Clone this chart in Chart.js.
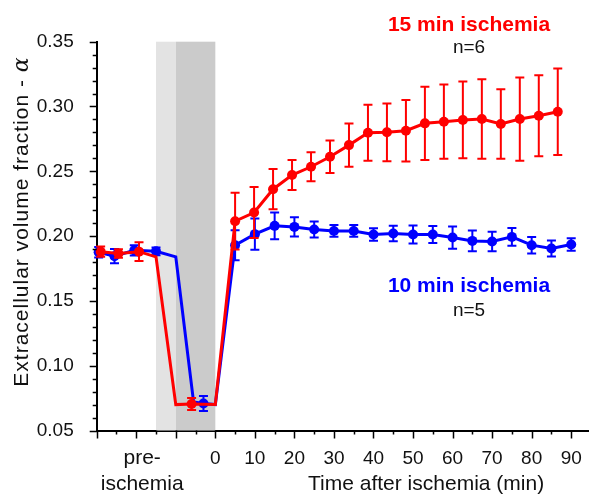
<!DOCTYPE html>
<html>
<head>
<meta charset="utf-8">
<script src="https://cdn.jsdelivr.net/npm/chart.js@4/dist/chart.umd.min.js"></script>
<style>
  body { margin: 0; background: #fff; }
  #wrap { width: 589px; height: 497px; }
</style>
</head>
<body>
<div id="wrap"><canvas id="c" width="589" height="497"></canvas></div>
<script>
// 15 min ischemia (red). null error = line vertex without a marker
const redX = [-29, -24.5, -19.3, -15, -10, -6, 0, 5, 9.8, 14.6, 19.4, 24.2, 29, 33.8, 38.6, 43.4, 48.2, 53, 57.8, 62.6, 67.4, 72.2, 77, 81.8, 86.6];
const redY = [0.188, 0.1866, 0.188, 0.184, 0.070, 0.0705, 0.070, 0.2115, 0.2182, 0.2362, 0.2471, 0.2535, 0.2612, 0.2702, 0.2798, 0.2801, 0.2813, 0.2870, 0.2883, 0.2896, 0.2903, 0.2865, 0.2903, 0.2929, 0.2960];
const redErr = [0.0039, 0.0033, 0.0072, null, null, 0.0046, null, 0.0219, 0.0197, 0.0155, 0.0116, 0.0112, 0.0125, 0.0167, 0.0216, 0.0223, 0.0238, 0.0283, 0.0286, 0.0296, 0.0307, 0.0268, 0.0321, 0.0313, 0.0334];

// 10 min ischemia (blue)
const blueX = [-29.5, -25.5, -20.5, -15, -10, -5.5, -3, 0, 5, 10, 15, 20, 25, 30, 35, 40, 45, 50, 55, 60, 65, 70, 75, 80, 85, 90];
const blueY = [0.1875, 0.1845, 0.189, 0.1883, 0.184, 0.072, 0.0708, 0.070, 0.193, 0.2015, 0.2079, 0.2071, 0.2051, 0.2040, 0.2040, 0.2012, 0.2020, 0.2012, 0.2012, 0.1989, 0.1963, 0.1958, 0.1994, 0.1930, 0.1904, 0.1935];
const blueErr = [0.004, 0.0055, 0.004, 0.003, null, null, 0.0058, null, 0.0116, 0.012, 0.0103, 0.0075, 0.0062, 0.0045, 0.0045, 0.0048, 0.006, 0.007, 0.0066, 0.0086, 0.008, 0.0075, 0.0068, 0.0064, 0.0062, 0.0048];

// ischemia periods (min)
const shadeLight = [-15, -10];
const shadeDark = [-10, 0];

const yTicks = [0.05, 0.10, 0.15, 0.20, 0.25, 0.30, 0.35];
const xTickLabels = [0, 10, 20, 30, 40, 50, 60, 70, 80, 90];

const RED = '#ff0000';
const BLUE = '#0000ff';
const FONT = "'Liberation Sans', Arial, sans-serif";

function pts(xs, ys) {
  return xs.map((x, i) => ({ x: x, y: ys[i] }));
}

const decor = {
  id: 'decor',
  beforeDatasetsDraw(chart) {
    const { ctx, chartArea: a, scales: { x } } = chart;
    ctx.save();
    ctx.fillStyle = '#e3e3e3';
    let x0 = x.getPixelForValue(shadeLight[0]), x1 = x.getPixelForValue(shadeLight[1]);
    ctx.fillRect(x0, a.top, x1 - x0, a.bottom - a.top);
    ctx.fillStyle = '#cbcbcb';
    x0 = x.getPixelForValue(shadeDark[0]); x1 = x.getPixelForValue(shadeDark[1]);
    ctx.fillRect(x0, a.top, x1 - x0, a.bottom - a.top);
    ctx.restore();
  },
  afterDatasetDraw(chart, args) {
    const { ctx, scales: { x, y } } = chart;
    const ds = chart.data.datasets[args.index];
    ctx.save();
    ctx.strokeStyle = ds.borderColor;
    ctx.lineWidth = 2;
    ds.data.forEach((p, i) => {
      const e = ds.errors[i];
      if (e === null) return;
      const px = x.getPixelForValue(p.x);
      const top = y.getPixelForValue(p.y + e);
      const bot = y.getPixelForValue(p.y - e);
      ctx.beginPath();
      ctx.moveTo(px, top); ctx.lineTo(px, bot);
      ctx.moveTo(px - 4.5, top); ctx.lineTo(px + 4.5, top);
      ctx.moveTo(px - 4.5, bot); ctx.lineTo(px + 4.5, bot);
      ctx.stroke();
    });
    ctx.restore();
  },
  afterDraw(chart) {
    const { ctx, chartArea: a, scales: { x, y } } = chart;
    ctx.save();
    // tick marks
    ctx.strokeStyle = '#000';
    ctx.lineWidth = 1.5;
    ctx.beginPath();
    for (let k = 5; k <= 35; k++) {
      const py = Math.round(y.getPixelForValue(k / 100)) + 0.5;
      const len = k % 5 === 0 ? 7 : 4;
      ctx.moveTo(a.left, py); ctx.lineTo(a.left - len, py);
    }
    for (let m = -30; m <= 90; m += 5) {
      const px = Math.round(x.getPixelForValue(m)) + 0.5;
      const len = m % 10 === 0 ? 8 : 4;
      ctx.moveTo(px, a.bottom); ctx.lineTo(px, a.bottom + len);
    }
    ctx.stroke();

    // x tick labels
    ctx.fillStyle = '#111';
    ctx.textAlign = 'center';
    ctx.textBaseline = 'alphabetic';
    ctx.font = '19px ' + FONT;
    xTickLabels.forEach(v => ctx.fillText(String(v), x.getPixelForValue(v), 463.5));

    ctx.font = '21px ' + FONT;
    const preX = x.getPixelForValue(-18.5);
    ctx.fillText('pre-', preX, 464);
    ctx.fillText('ischemia', preX, 490);
    ctx.fillText('Time after ischemia (min)', x.getPixelForValue(53.3), 490);

    // y title
    ctx.save();
    ctx.translate(28, 386.7);
    ctx.rotate(-Math.PI / 2);
    ctx.textAlign = 'left';
    ctx.letterSpacing = '1px';
    ctx.font = '21px ' + FONT;
    const main = 'Extracellular volume fraction - ';
    ctx.fillText(main, 0, 0);
    const w = ctx.measureText(main).width;
    ctx.font = 'italic 22px "DejaVu Serif", serif';
    ctx.fillText('\u03b1', w, 0);
    ctx.restore();

    // series labels
    ctx.textAlign = 'center';
    ctx.font = 'bold 21px ' + FONT;
    ctx.fillStyle = RED;
    ctx.fillText('15 min ischemia', 469, 31);
    ctx.fillStyle = BLUE;
    ctx.fillText('10 min ischemia', 469, 292);
    ctx.fillStyle = '#111';
    ctx.font = '19px ' + FONT;
    ctx.fillText('n=6', 469, 53);
    ctx.fillText('n=5', 469, 316);
    ctx.restore();
  }
};

new Chart(document.getElementById('c'), {
  type: 'scatter',
  data: {
    datasets: [{
      label: '15 min ischemia',
      data: pts(redX, redY),
      errors: redErr,
      showLine: true,
      borderColor: RED,
      backgroundColor: RED,
      borderWidth: 3,
      pointRadius: ctx => (redErr[ctx.dataIndex] === null ? 0 : 5),
      pointBorderWidth: 0
    }, {
      label: '10 min ischemia',
      data: pts(blueX, blueY),
      errors: blueErr,
      showLine: true,
      borderColor: BLUE,
      backgroundColor: BLUE,
      borderWidth: 3,
      pointRadius: ctx => (blueErr[ctx.dataIndex] === null ? 0 : 5),
      pointBorderWidth: 0
    }]
  },
  options: {
    responsive: false,
    animation: false,
    clip: false,
    layout: { autoPadding: false, padding: { top: 41.7, right: 0, left: 0, bottom: 0 } },
    plugins: { legend: { display: false }, tooltip: { enabled: false } },
    scales: {
      x: {
        type: 'linear',
        min: -30,
        max: 94.5,
        afterFit: s => { s.height = 66.5; },
        grid: { display: false },
        border: { display: true, color: '#000', width: 2 },
        ticks: { display: false }
      },
      y: {
        min: yTicks[0],
        max: yTicks[yTicks.length - 1],
        afterFit: s => { s.width = 96.7; },
        grid: { display: false },
        border: { display: true, color: '#000', width: 2 },
        afterBuildTicks: s => { s.ticks = yTicks.map(v => ({ value: v })); },
        ticks: {
          padding: 15,
          color: '#111',
          font: { family: FONT, size: 19 },
          callback: v => v.toFixed(2)
        }
      }
    }
  },
  plugins: [decor]
});
</script>
</body>
</html>
